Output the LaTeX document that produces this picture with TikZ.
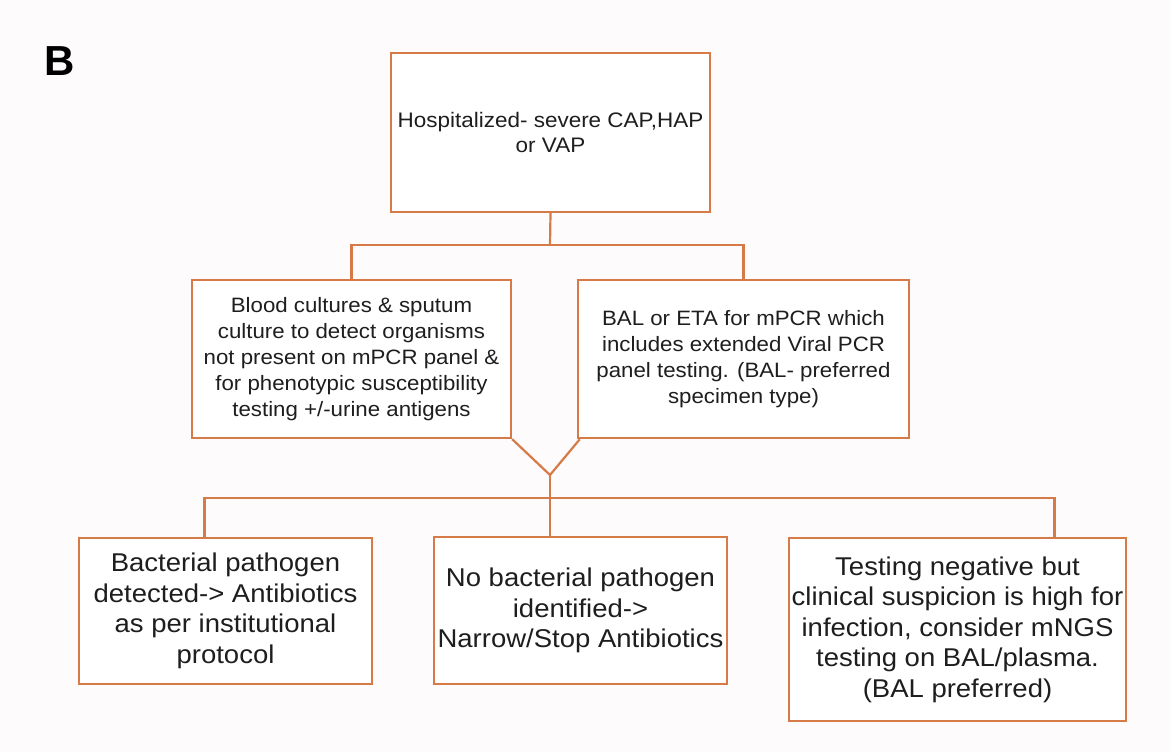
\documentclass[tikz,border=0pt]{standalone}
\usepackage{fontspec}
\setmainfont{Liberation Sans}
\newfontfamily\widefont[FakeStretch=1.07]{Liberation Sans}
\usetikzlibrary{calc}
\definecolor{boxorange}{RGB}{214,122,72}
\definecolor{txt}{RGB}{30,30,30}
\definecolor{bgc}{RGB}{253,251,251}
\tikzset{
  fbox/.style={draw=boxorange, line width=2.4pt, fill=white, rectangle, align=center, text=txt, inner sep=0pt},
  conn/.style={draw=boxorange, line width=2.2pt},
  topfont/.style={font=\widefont\fontsize{21}{25}\selectfont},
  midfont/.style={font=\widefont\fontsize{20.8}{26}\selectfont},
  botfont/.style={font=\widefont\fontsize{25.7}{30.5}\selectfont},
}
\begin{document}
\begin{tikzpicture}[x=1pt,y=-1pt]
\fill[bgc] (0,0) rectangle (1170,752);
\useasboundingbox (0,0) rectangle (1170,752);
\node[font=\bfseries\fontsize{42}{42}\selectfont, anchor=base west, text=black, inner sep=0pt] (lbl) at (44,75) {B};

\node[fbox, topfont, minimum width=319pt, minimum height=159pt] (top) at (550.5,132.5)
  {Hospitalized- severe CAP,HAP\\or VAP};
\node[fbox, midfont, minimum width=319pt, minimum height=158pt] (lm) at (351.5,359)
  {Blood cultures \& sputum\\culture to detect organisms\\not present on mPCR panel \&\\for phenotypic susceptibility\\testing +/-urine antigens};
\node[fbox, midfont, minimum width=331pt, minimum height=158pt] (rm) at (743.5,359)
  {BAL or ETA for mPCR which\\includes extended Viral PCR\\panel testing. (BAL- preferred\\specimen type)};
\node[fbox, botfont, minimum width=293pt, minimum height=146pt] (bl) at (225.5,611)
  {Bacterial pathogen\\detected-> Antibiotics\\as per institutional\\protocol};
\node[fbox, botfont, minimum width=293pt, minimum height=147pt] (bm) at (580.5,610.5)
  {No bacterial pathogen\\identified->\\Narrow/Stop Antibiotics};
\node[fbox, botfont, minimum width=337pt, minimum height=183pt] (br) at (957.5,629.5)
  {Testing negative but\\clinical suspicion is high for\\infection, consider mNGS\\testing on BAL/plasma.\\(BAL preferred)};

\coordinate (j1) at (550,245);
\coordinate (apex) at (550,475);
\coordinate (j2) at (550,498);
\coordinate (sl) at ($(bl.north)+(-21,0)$);
\coordinate (sr) at ($(br.north)+(97,0)$);

\draw[conn] (top.south) -- (j1);
\draw[conn] (lm.north) -- (lm.north |- j1) -- (rm.north |- j1) -- (rm.north);
\draw[conn] (lm.south east) -- (apex) -- ($(rm.south west)+(3,0)$);
\draw[conn] (apex) -- (apex |- bm.north);
\draw[conn] (sl) -- (sl |- j2) -- (sr |- j2) -- (sr);
\end{tikzpicture}
\end{document}
